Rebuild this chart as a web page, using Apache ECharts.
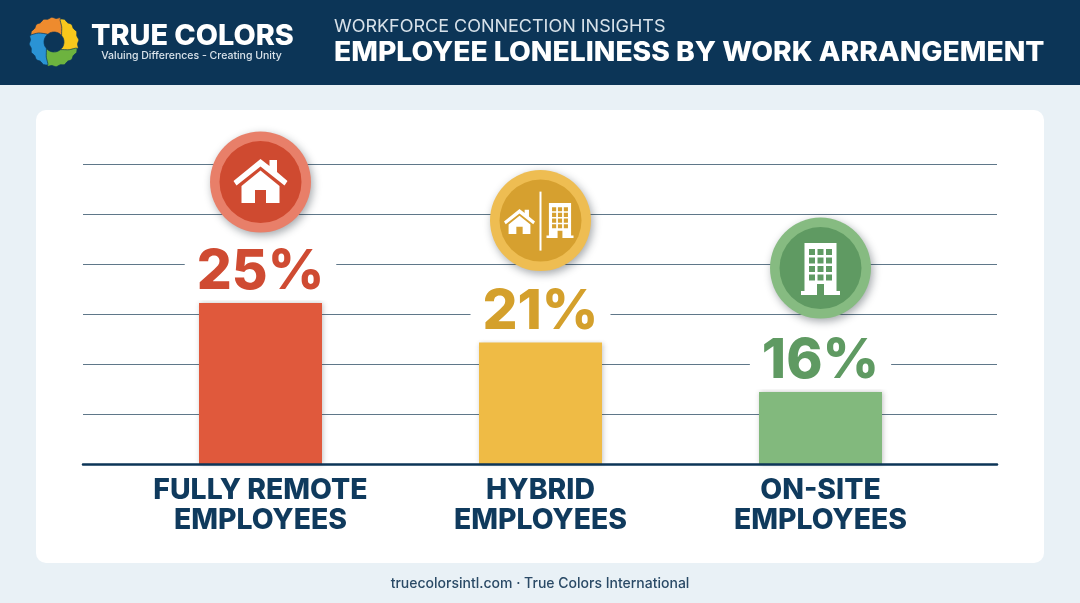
<!DOCTYPE html>
<html><head><meta charset="utf-8">
<style>html,body{margin:0;padding:0;background:#e9f1f6}#c{width:1080px;height:603px}</style>
<script src="https://cdn.jsdelivr.net/npm/echarts@6/dist/echarts.min.js"></script>
</head><body><div id="c"></div>
<script>
const categories = ['FULLY REMOTE\nEMPLOYEES', 'HYBRID\nEMPLOYEES', 'ON-SITE\nEMPLOYEES'];
const values = [25, 21, 16];
const barColors = ['#e0593c', '#efbb45', '#82b97d'];
const labelColors = ['#cf4b32', '#d4a02c', '#5f9a62'];
const ringColors = ['#e87f69', '#eebd52', '#86bb81'];
const discColors = ['#cf4a30', '#d6a02f', '#5f9a62'];
const iconKinds = ['house', 'both', 'building'];
const title = 'EMPLOYEE LONELINESS BY WORK ARRANGEMENT';
const subtitle = 'WORKFORCE CONNECTION INSIGHTS';
const brand = 'TRUE COLORS';
const tagline = 'Valuing Differences - Creating Unity';
const footer = 'truecolorsintl.com · True Colors International';

const NAVY = '#0c3557', FONT = 'Inter, "Open Sans", sans-serif';
const axisMin = 8.74, axisMax = 39.04, axisStep = 5.05;
const iconLift = [121, 122, 124];

const HOUSE = 'M-27,-1L0,-23L9,-16L9,-22L16.5,-22L16.5,-10L27,-1L24,3.5L0,-15.5L-24,3.5Z' +
  'M-19,4L0,-11.5L19,4L19,21L5.5,21L5.5,8L-5.5,8L-5.5,21L-19,21Z';
function buildingPath() {
  let d = 'M-16,-26L16,-26L16,22L19.5,22L19.5,26L3.5,26L3.5,15L-3.5,15L-3.5,26L-19.5,26L-19.5,22L-16,22Z';
  for (let r = 0; r < 4; r++) for (let c = 0; c < 3; c++) {
    const x = -11.5 + c * 8.5, y = -20 + r * 8.5, s = 6;
    d += `M${x},${y}L${x},${y + s}L${x + s},${y + s}L${x + s},${y}Z`;
  }
  return d;
}
const BUILDING = buildingPath();

function glyph(d, cx, cy, w, h) {
  return { type: 'path', shape: { pathData: d, layout: 'cover', x: cx - w / 2, y: cy - h / 2, width: w, height: h },
    style: { fill: '#fff' } };
}
function renderIcon(params, api) {
  const i = params.dataIndex;
  const p = api.coord([i, api.value(1)]);
  const cx = p[0], cy = p[1] - iconLift[i];
  const kids = [
    { type: 'circle', shape: { cx, cy, r: 50.5 }, style: { fill: ringColors[i], shadowBlur: 9, shadowOffsetX: 2, shadowOffsetY: 3, shadowColor: 'rgba(30,40,50,0.4)' } },
    { type: 'circle', shape: { cx, cy, r: 41 }, style: { fill: discColors[i] } }
  ];
  if (iconKinds[i] === 'house') kids.push(glyph(HOUSE, cx, cy - 1, 54, 44));
  if (iconKinds[i] === 'building') kids.push(glyph(BUILDING, cx, cy + 1, 39, 52));
  if (iconKinds[i] === 'both') {
    kids.push(glyph(HOUSE, cx - 21, cy + 1, 31, 25));
    kids.push({ type: 'rect', shape: { x: cx - 1, y: cy - 29, width: 2, height: 59 }, style: { fill: '#fff' } });
    kids.push(glyph(BUILDING, cx + 19.5, cy, 27, 35));
  }
  return { type: 'group', children: kids };
}

const segs = (function () {
  const cx = 54, cy = 42;
  const P = (r, deg) => { const t = deg * Math.PI / 180; return [cx + r * Math.cos(t), cy + r * Math.sin(t)]; };
  const starts = [-165, -75, 15, 105], cols = ['#ee8b2e', '#f8c81c', '#6db33f', '#2a93d5'];
  return starts.map((a, k) => {
    const pts = [];
    for (let d = 0; d <= 90; d += 10) pts.push(P(24 + (d % 20 ? 0.9 : -0.4), a + d));
    pts.push(P(18, a + 105)); pts.push(P(10, a + 125));
    for (let d = 110; d >= 35; d -= 15) pts.push(P(10, a + d));
    pts.push(P(17, a + 12));
    return { type: 'polygon', shape: { points: pts, smooth: 0.2 }, style: { fill: cols[k], stroke: NAVY, lineWidth: 0.7 }, z: 5 };
  });
})();

const chart = echarts.init(document.getElementById('c'), null, { renderer: 'canvas' });
chart.setOption({
  animation: false,
  backgroundColor: '#e9f1f6',
  graphic: { elements: [
    { type: 'rect', z: -10, shape: { x: 0, y: 0, width: 1080, height: 85 }, style: { fill: NAVY } },
    { type: 'rect', z: -10, shape: { x: 36, y: 110, width: 1008, height: 453, r: 10 }, style: { fill: '#fff' } },
    ...segs,
    { type: 'text', z: 5, x: 91, y: 36, style: { text: brand, fill: '#fff', font: '800 28.8px ' + FONT, textVerticalAlign: 'middle' } },
    { type: 'text', z: 5, x: 191.5, y: 55.5, style: { text: tagline, fill: '#d8e2ea', font: '500 10.5px ' + FONT, textAlign: 'center', textVerticalAlign: 'middle' } },
    { type: 'text', z: 5, x: 334, y: 27, scaleX: 1.034, style: { text: subtitle, fill: '#d8e2ea', font: '400 17.4px ' + FONT, textVerticalAlign: 'middle' } },
    { type: 'text', z: 5, x: 334, y: 53.5, scaleX: 1.066, style: { text: title, fill: '#fff', font: '800 26.5px ' + FONT, textVerticalAlign: 'middle' } },
    { type: 'text', z: 5, x: 540, y: 584, style: { text: footer, fill: '#2a4a66', font: '500 14px ' + FONT, textAlign: 'center', textVerticalAlign: 'middle' } }
  ] },
  grid: [
    { left: 83, right: 83, top: 164, bottom: 139 },
    { left: 120.5, right: 119.5, top: 164, bottom: 139 }
  ],
  xAxis: [
    { type: 'category', gridIndex: 0, data: [''], axisTick: { show: false }, axisLabel: { show: false }, splitLine: { show: false },
      axisLine: { show: true, lineStyle: { color: NAVY, width: 2.5 } }, z: 6 },
    { type: 'category', gridIndex: 1, data: categories, axisTick: { show: false }, axisLine: { show: false },
      axisLabel: { interval: 0, margin: 11, color: '#0f3a5d', fontFamily: FONT, fontWeight: 800, fontSize: 28.4, lineHeight: 30 } }
  ],
  yAxis: [
    { type: 'value', gridIndex: 0, min: axisMin, max: axisMax, interval: axisStep,
      axisLabel: { show: false }, axisLine: { show: false }, axisTick: { show: false },
      splitLine: { show: true, lineStyle: { color: '#5f7789', width: 1 } } },
    { type: 'value', gridIndex: 1, min: axisMin, max: axisMax, interval: axisStep, show: false, splitLine: { show: false } }
  ],
  series: [
    { type: 'bar', xAxisIndex: 1, yAxisIndex: 1, barWidth: 123, z: 3,
      data: values.map((v, i) => ({
        value: v,
        itemStyle: { color: barColors[i], shadowBlur: 5, shadowOffsetX: 1, shadowOffsetY: 0, shadowColor: 'rgba(60,60,60,0.3)' },
        label: { color: labelColors[i] }
      })),
      label: { show: true, position: 'top', distance: 3, formatter: '{c}%', fontFamily: FONT, fontWeight: 800, fontSize: 55,
        backgroundColor: '#fff', padding: [0, 12, 0, 12] } },
    { type: 'custom', xAxisIndex: 1, yAxisIndex: 1, z: 4, renderItem: renderIcon,
      data: values.map((v, i) => [i, v]), encode: { x: 0, y: 1 } }
  ]
});
</script></body></html>
